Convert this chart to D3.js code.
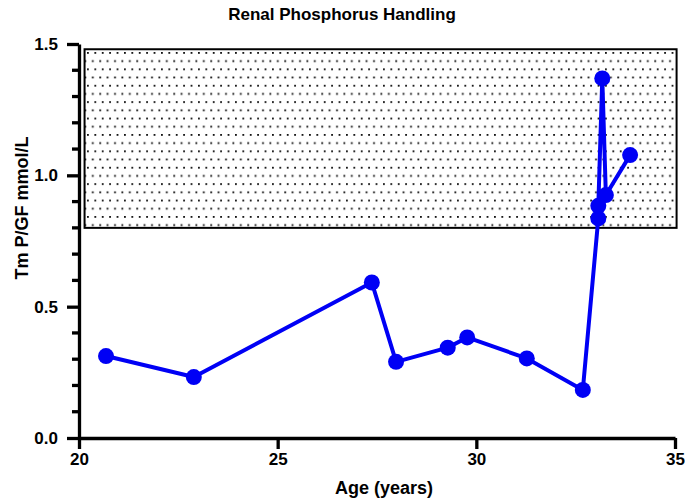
<!DOCTYPE html>
<html>
<head>
<meta charset="utf-8">
<script src="https://cdn.jsdelivr.net/npm/d3@7"></script>
<style>
  body { margin: 0; background: #fff; }
  text { font-family: "Liberation Sans", Arial, sans-serif; font-weight: bold; }
</style>
</head>
<body>
<div id="chart"></div>
<script>
// Data
const ages = [20.68, 22.89, 27.37, 27.98, 29.28, 29.77, 31.27, 32.68, 33.07, 33.07, 33.17, 33.26, 33.87];
const tmpgf = [0.312, 0.232, 0.592, 0.29, 0.344, 0.383, 0.303, 0.183, 0.836, 0.884, 1.369, 0.925, 1.077];
const normalRange = [0.8, 1.48];
const normalAges = [20.14, 35.04];
const xTicks = [20, 25, 30, 35];
const yTicks = [0, 0.5, 1.0, 1.5];

const width = 685, height = 500;

const svg = d3.select("#chart")
  .append("svg")
  .attr("width", width)
  .attr("height", height);

const x = d3.scaleLinear().domain([20, 35]).range([79, 675]);
const y = d3.scaleLinear().domain([0, 1.5]).range([438, 44]);

// dotted fill pattern for normal range
const defs = svg.append("defs");
const pat = defs.append("pattern")
  .attr("id", "dots")
  .attr("patternUnits", "userSpaceOnUse")
  .attr("width", 7.4)
  .attr("height", 16.4)
  .attr("x", 87)
  .attr("y", 52);
pat.append("rect").attr("x", 0).attr("y", 0).attr("width", 1.8).attr("height", 1.8).attr("fill", "#111");
pat.append("rect").attr("x", 4.9).attr("y", 8.2).attr("width", 1.8).attr("height", 1.8).attr("fill", "#111");

svg.append("rect")
  .attr("x", x(normalAges[0]))
  .attr("y", y(normalRange[1]))
  .attr("width", x(normalAges[1]) - x(normalAges[0]))
  .attr("height", y(normalRange[0]) - y(normalRange[1]))
  .attr("fill", "url(#dots)")
  .attr("stroke", "#000")
  .attr("stroke-width", 2);

// title
svg.append("text")
  .attr("x", 342)
  .attr("y", 20)
  .attr("text-anchor", "middle")
  .style("font-size", "17px")
  .text("Renal Phosphorus Handling");

// y axis minor ticks
const yMinor = d3.range(0, 1.51, 0.1).filter(v => Math.abs(v * 2 - Math.round(v * 2)) > 0.01);
svg.append("g")
  .selectAll("line")
  .data(yMinor)
  .join("line")
  .attr("x1", 72)
  .attr("x2", 79)
  .attr("y1", d => y(d))
  .attr("y2", d => y(d))
  .attr("stroke", "#000")
  .attr("stroke-width", 3.3);

const yAxis = svg.append("g")
  .attr("transform", "translate(79,0)")
  .call(d3.axisLeft(y).tickValues(yTicks).tickFormat(d3.format(".1f")).tickSize(12).tickSizeOuter(0).tickPadding(9));

const xAxis = svg.append("g")
  .attr("transform", "translate(0,438)")
  .call(d3.axisBottom(x).tickValues(xTicks).tickSize(11).tickSizeOuter(0).tickPadding(4));

[yAxis, xAxis].forEach(g => {
  g.select(".domain").attr("stroke-width", 3.3);
  g.selectAll(".tick line").attr("stroke-width", 3.3);
  g.selectAll("text").style("font-size", "17px").attr("fill", "#000")
    .style("font-family", "'Liberation Sans', Arial, sans-serif").style("font-weight", "bold");
});

// axis titles
svg.append("text")
  .attr("x", 384)
  .attr("y", 494)
  .attr("text-anchor", "middle")
  .style("font-size", "18px")
  .text("Age (years)");

svg.append("text")
  .attr("transform", "translate(28,208) rotate(-90)")
  .attr("text-anchor", "middle")
  .style("font-size", "18px")
  .text("Tm P/GF mmol/L");

// series
const pts = ages.map((a, i) => ({ age: a, v: tmpgf[i] }));
const line = d3.line().x(d => x(d.age)).y(d => y(d.v));

svg.append("path")
  .datum(pts)
  .attr("d", line)
  .attr("fill", "none")
  .attr("stroke", "#0000f5")
  .attr("stroke-width", 4)
  .attr("stroke-linejoin", "round");

svg.append("g")
  .selectAll("circle")
  .data(pts)
  .join("circle")
  .attr("cx", d => x(d.age))
  .attr("cy", d => y(d.v))
  .attr("r", 8)
  .attr("fill", "#0000f5");
</script>
</body>
</html>
